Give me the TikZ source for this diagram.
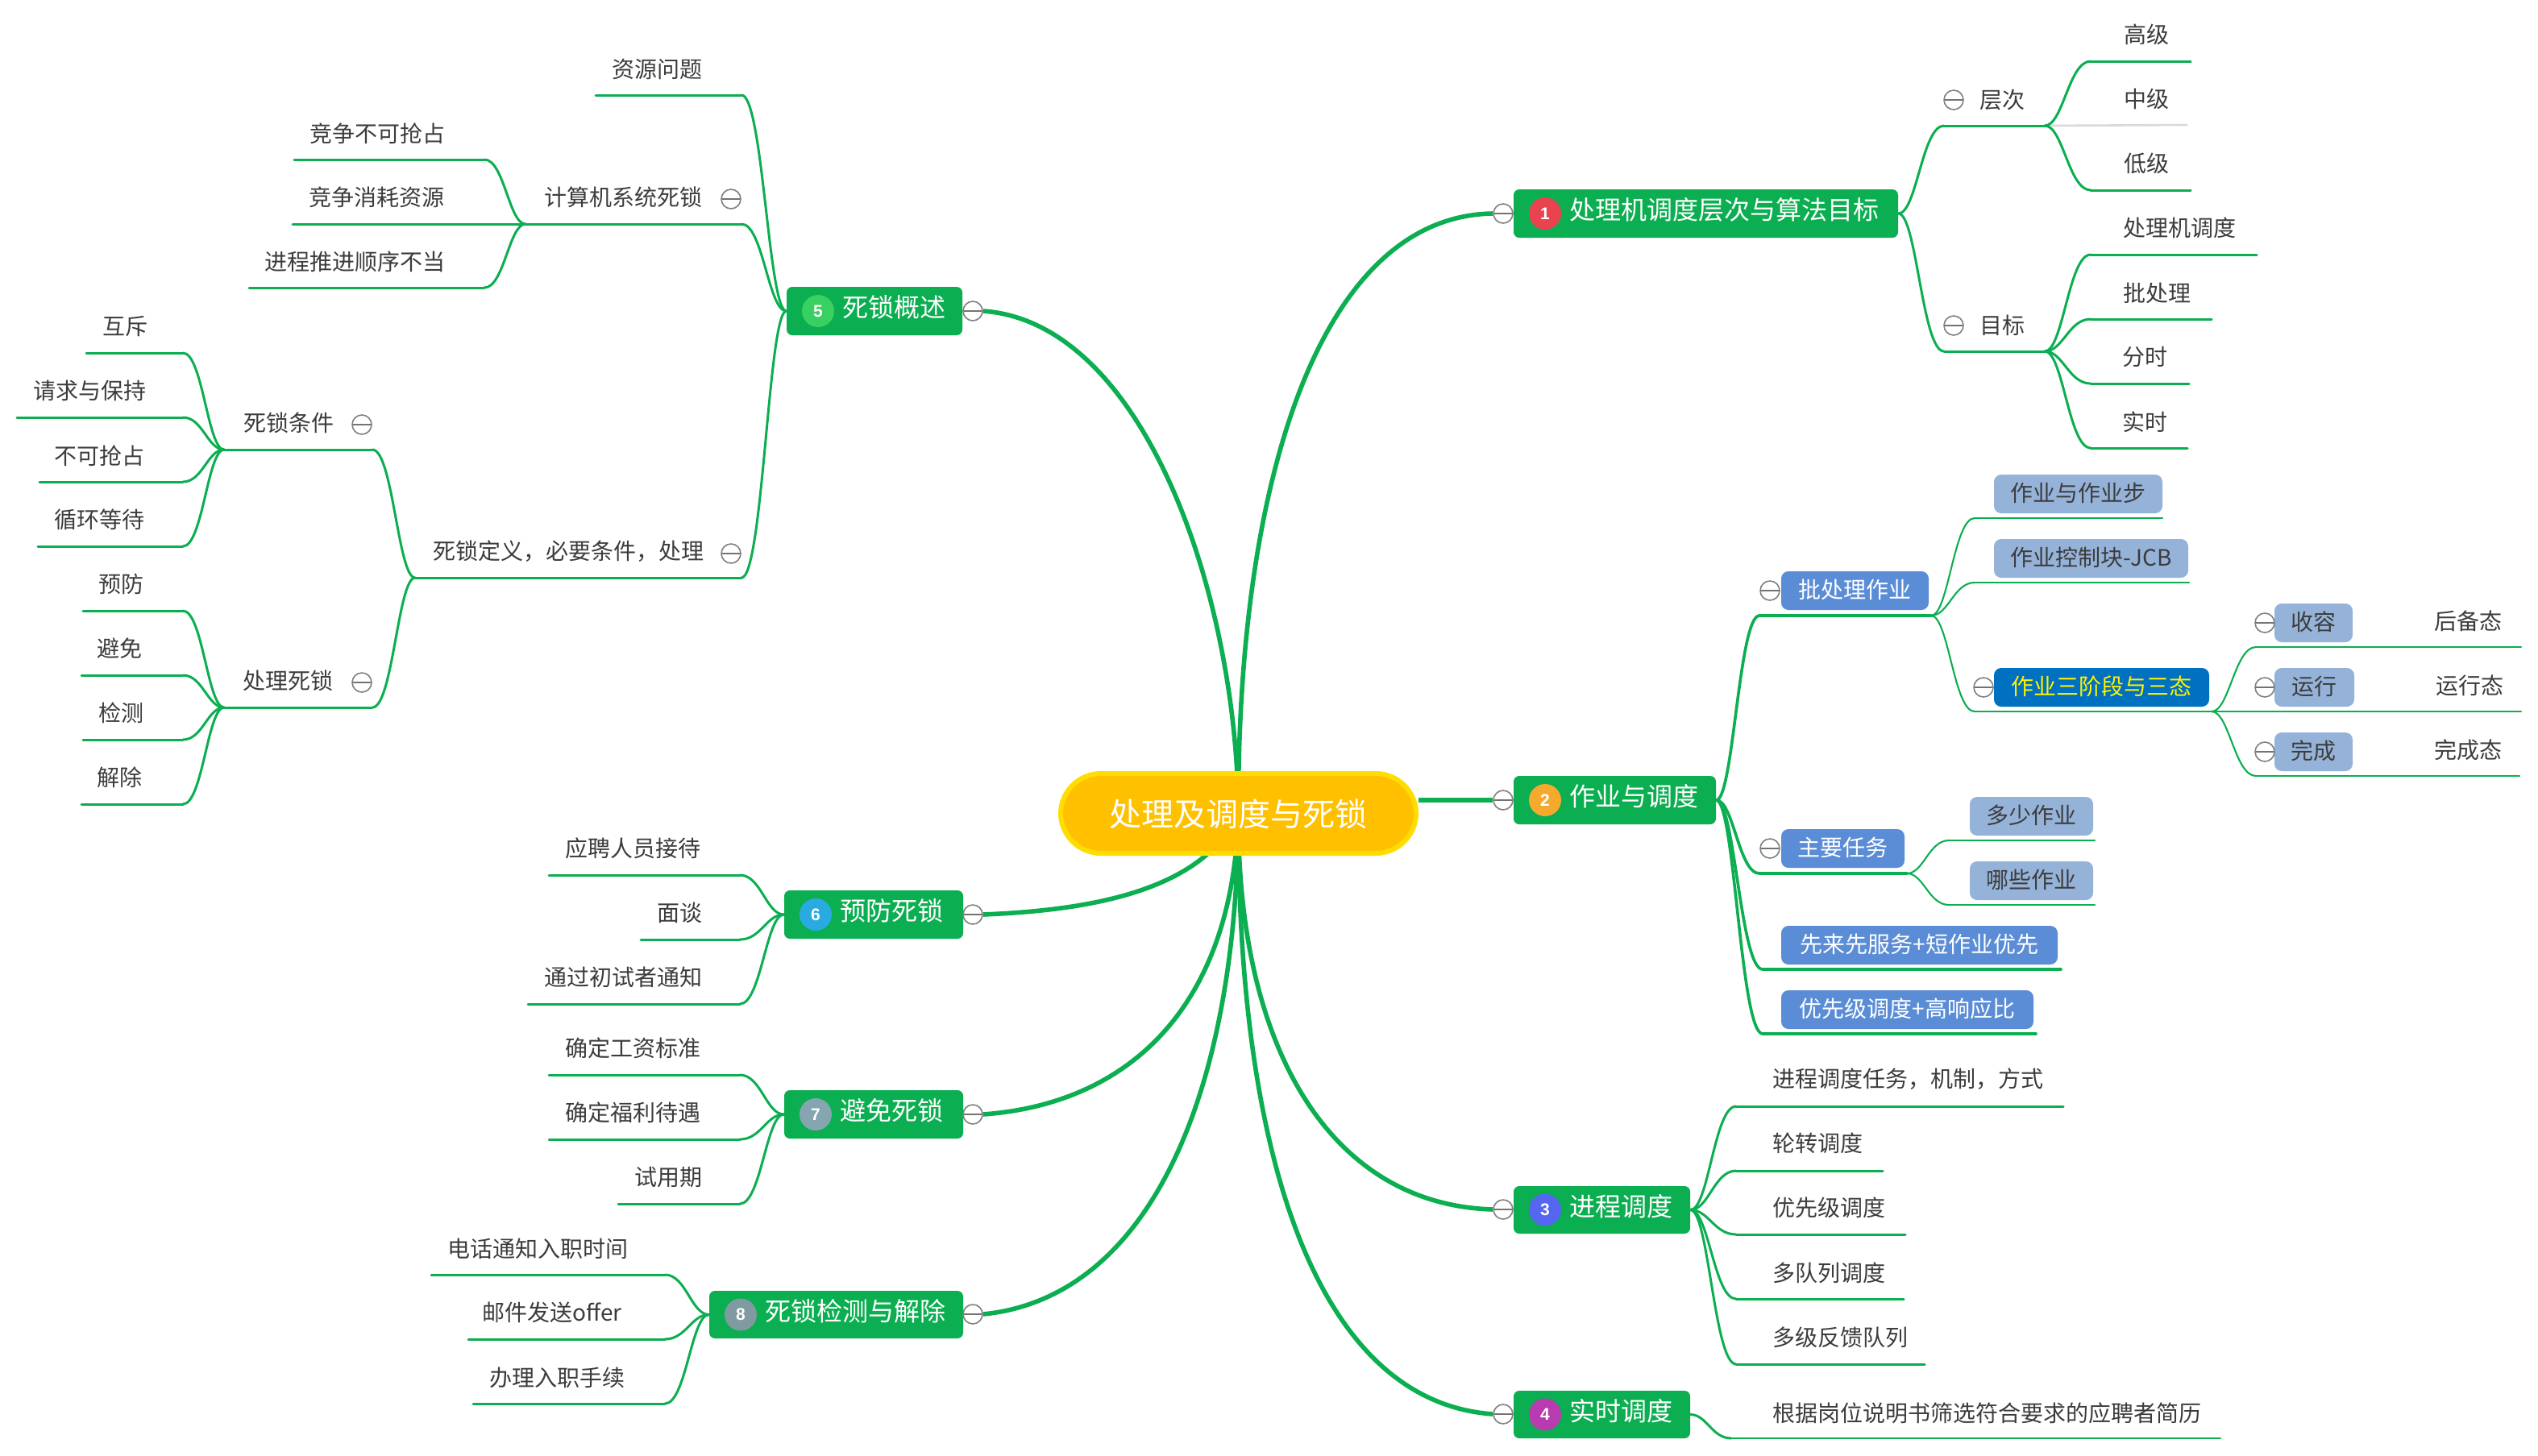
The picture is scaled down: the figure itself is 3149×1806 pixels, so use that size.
\documentclass[tikz,border=0pt]{standalone}
\usepackage{fontspec}
\setmainfont{Noto Sans CJK SC}
\newfontfamily\numf{Liberation Sans}
\usetikzlibrary{calc}
\pgfdeclarelayer{bg}
\pgfsetlayers{bg,main}
\definecolor{grn}{HTML}{0BAE50}
\definecolor{txt}{HTML}{3C3C3C}
\definecolor{bluebox}{HTML}{5B8DD6}
\definecolor{palebox}{HTML}{95B3D9}
\definecolor{deepbox}{HTML}{0070C0}
\definecolor{rootfill}{HTML}{FFC000}
\definecolor{rootedge}{HTML}{FFDD00}
\definecolor{bda}{HTML}{E8434E}
\definecolor{bdb}{HTML}{F5AA2E}
\definecolor{bdc}{HTML}{5566F0}
\definecolor{bdd}{HTML}{B83CB0}
\definecolor{bde}{HTML}{38D060}
\definecolor{bdf}{HTML}{29ABE2}
\definecolor{bdg}{HTML}{85A5B0}
\definecolor{bdh}{HTML}{7F9AA0}
\tikzset{
  lab/.style={font=\fontsize{14pt}{14pt}\selectfont,text=txt,inner sep=0pt,text height=12pt,text depth=2pt},
  ln/.style={draw=grn,line width=1.5pt,line cap=round},
  thk/.style={draw=grn,line width=1.8pt,line cap=round},
  thn/.style={draw=grn,line width=1.05pt,line cap=round},
  mainln/.style={draw=grn,line width=2.8pt},
  sc/.style={to path={.. controls ($(\tikztostart)!.4!(\tikztostart-|\tikztotarget)$) and ($(\tikztotarget)!.48!(\tikztotarget-|\tikztostart)$) .. (\tikztotarget)}},
  mc/.style={circle,draw=gray,fill=white,line width=.8pt,minimum size=12pt,inner sep=0pt,
    path picture={\draw[gray!90!black,line width=.7pt] (path picture bounding box.west) -- (path picture bounding box.east);}},
  onebox/.style={fill=grn,rounded corners=3.5pt},
  bluestyle/.style={fill=bluebox,rounded corners=4.5pt,font=\fontsize{14pt}{14pt}\selectfont,text=white},
  palestyle/.style={fill=palebox,rounded corners=4.5pt,font=\fontsize{14pt}{14pt}\selectfont,text=txt},
  deepstyle/.style={fill=deepbox,rounded corners=4.5pt,font=\fontsize{14pt}{14pt}\selectfont,text=yellow},
}
% name, text, centre x, centre y, line x0, line x1, line y, line style
\newcommand\leafn[8]{%
  \node[lab] (#1) at (#3,#4) {#2};
  \coordinate (#1L) at (#5,#7);
  \coordinate (#1R) at (#6,#7);
  \begin{pgfonlayer}{bg}\draw[#8] (#1L) -- (#1R);\end{pgfonlayer}}
% name, x0, y0, x1, y1, style, text
\newcommand\boxn[7]{%
  \pgfmathsetmacro\bw{(#4-#2)*0.5}\pgfmathsetmacro\bh{(#5-#3)*0.5}%
  \node[#6,inner sep=0pt,minimum width=\bw pt,minimum height=\bh pt,text height=12pt,text depth=2.6pt] (#1) at ({(#2+#4)/2},{(#3+#5)/2}) {#7};}
% name, x0, y0, x1, y1, badge colour, number, text
\newcommand\onen[8]{%
  \boxn{#1}{#2}{#3}{#4}{#5}{onebox}{}%
  \node[circle,fill=#6,minimum size=20pt,inner sep=0pt,text=white,font=\numf\bfseries\fontsize{10.5pt}{10.5pt}\selectfont] (#1b) at ({#2+39},{(#3+#5)/2}) {#7};
  \node[anchor=west,inner sep=0pt,text=white,font=\fontsize{16pt}{16pt}\selectfont,text height=13.8pt,text depth=2.2pt] (#1t) at ({#2+69},{(#3+#5)/2-4}) {#8};}
\newcommand\mcn[3]{\node[mc] (#1) at (#2,#3) {};}
\newcommand\conn[3][ln]{\begin{pgfonlayer}{bg}\draw[#1] (#2) to[sc] (#3);\end{pgfonlayer}}
\begin{document}
\begin{tikzpicture}[x=0.5pt,y=-0.5pt]
\useasboundingbox (0,0) rectangle (3149,1806);
\begin{pgfonlayer}{bg}\fill[white] (0,0) rectangle (3149,1806);\end{pgfonlayer}
% root
\node[rectangle,rounded corners=25pt,fill=rootfill,draw=rootedge,line width=3pt,minimum width=220.5pt,minimum height=49.5pt,inner sep=0pt,text=white,font=\fontsize{20pt}{20pt}\selectfont,text height=18.5pt,text depth=2.8pt] (root) at (1536.5,1009.5) {处理及调度与死锁};
% level one
\onen{n1}{1878}{235}{2355}{295}{bda}{1}{处理机调度层次与算法目标}
\onen{n2}{1878}{963}{2129}{1023}{bdb}{2}{作业与调度}
\onen{n3}{1878}{1472}{2097}{1531}{bdc}{3}{进程调度}
\onen{n4}{1878}{1726}{2097}{1785}{bdd}{4}{实时调度}
\onen{n5}{976}{356}{1194}{416}{bde}{5}{死锁概述}
\onen{n6}{973}{1105}{1195}{1165}{bdf}{6}{预防死锁}
\onen{n7}{973}{1353}{1195}{1413}{bdg}{7}{避免死锁}
\onen{n8}{880}{1602}{1195}{1661}{bdh}{8}{死锁检测与解除}
\mcn{m1}{1865}{265}\mcn{m2}{1865}{993}\mcn{m3}{1865}{1501}\mcn{m4}{1865}{1755}
\mcn{m5}{1207}{386}\mcn{m6}{1207}{1135}\mcn{m7}{1207}{1383}\mcn{m8}{1207}{1631}
\begin{pgfonlayer}{bg}
\draw[mainln] (root.center) .. controls (1535,590) and (1640,268) .. (m1.west);
\draw[mainln] (root.east |- m2.west) -- (m2.west);
\draw[mainln] (root.center) .. controls (1535,1300) and (1650,1495) .. (m3.west);
\draw[mainln] (root.center) .. controls (1535,1450) and (1640,1740) .. (m4.west);
\draw[mainln] (root.center) .. controls (1535,740) and (1420,400) .. (m5.east);
\draw[mainln] (root.center) .. controls (1490,1110) and (1340,1130) .. (m6.east);
\draw[mainln] (root.center) .. controls (1530,1250) and (1400,1370) .. (m7.east);
\draw[mainln] (root.center) .. controls (1535,1350) and (1430,1610) .. (m8.east);
\end{pgfonlayer}
% branch 1
\leafn{cc}{层次}{2484}{124}{2412}{2537}{156}{ln}\mcn{mcc}{2424}{124}
\leafn{gj}{高级}{2663}{43}{2594}{2718}{76}{ln}
\leafn{dj}{低级}{2663}{203}{2594}{2718}{236}{ln}
\node[lab] (zj) at (2663,123) {中级};
\coordinate (zjR) at (2714,155);
\begin{pgfonlayer}{bg}\draw[black!15,line width=1.3pt] (ccR) -- (zjR);\end{pgfonlayer}
\leafn{mb}{目标}{2484}{404}{2412}{2537}{436}{ln}\mcn{mmb}{2424}{404}
\leafn{clj}{处理机调度}{2704}{283}{2594}{2800}{316}{ln}
\leafn{pcl}{批处理}{2676}{364}{2594}{2744}{396}{ln}
\leafn{fs}{分时}{2661}{443}{2594}{2716}{476}{ln}
\leafn{ss}{实时}{2661}{524}{2594}{2714}{556}{ln}
\conn{n1.east}{ccL}\conn{n1.east}{mbL}
\conn{ccR}{gjL}\conn{ccR}{djL}
\conn{mbR}{cljL}\conn{mbR}{pclL}\conn{mbR}{fsL}\conn{mbR}{ssL}
% branch 2
\boxn{pz}{2210}{709}{2393}{757}{bluestyle}{批处理作业}\mcn{mpz}{2196}{733}
\coordinate (pzL) at (2183,764);\coordinate (pzR) at (2396,764);
\boxn{zb}{2474}{589}{2683}{637}{palestyle}{作业与作业步}
\coordinate (zbL) at (2450,643);\coordinate (zbR) at (2683,643);
\boxn{kz}{2474}{669}{2715}{717}{palestyle}{作业控制块-JCB}
\coordinate (kzL) at (2450,723);\coordinate (kzR) at (2716,723);
\boxn{sj}{2474}{829}{2741}{877}{deepstyle}{作业三阶段与三态}\mcn{msj}{2461}{853}
\coordinate (sjL) at (2450,883);\coordinate (sjR) at (2744,883);
\boxn{sr}{2822}{749}{2919}{797}{palestyle}{收容}\mcn{msr}{2810}{773}
\coordinate (srL) at (2799,803);\coordinate (srR) at (3128,803);
\boxn{yx}{2822}{829}{2921}{877}{palestyle}{运行}\mcn{myx}{2810}{853}
\coordinate (yxL) at (2799,883);\coordinate (yxR) at (3128,883);
\boxn{wc}{2822}{909}{2919}{957}{palestyle}{完成}\mcn{mwc}{2810}{933}
\coordinate (wcL) at (2799,963);\coordinate (wcR) at (3126,963);
\node[lab] (hb) at (3062,771) {后备态};
\node[lab] (yxt) at (3064,851) {运行态};
\node[lab] (wct) at (3062,931) {完成态};
\boxn{zy}{2210}{1029}{2363}{1077}{bluestyle}{主要任务}\mcn{mzy}{2196}{1053}
\coordinate (zyL) at (2183,1084);\coordinate (zyR) at (2366,1084);
\boxn{ds}{2444}{989}{2597}{1037}{palestyle}{多少作业}
\coordinate (dsL) at (2418,1043);\coordinate (dsR) at (2599,1043);
\boxn{nx}{2444}{1069}{2597}{1117}{palestyle}{哪些作业}
\coordinate (nxL) at (2418,1123);\coordinate (nxR) at (2599,1123);
\boxn{xl}{2210}{1149}{2553}{1197}{bluestyle}{先来先服务+短作业优先}
\coordinate (xlL) at (2187,1203);\coordinate (xlR) at (2557,1203);
\boxn{yj}{2210}{1229}{2523}{1277}{bluestyle}{优先级调度+高响应比}
\coordinate (yjL) at (2187,1283);\coordinate (yjR) at (2526,1283);
\begin{pgfonlayer}{bg}
\draw[thk] (pzL)--(pzR); \draw[thn] (zbL)--(zbR); \draw[thn] (kzL)--(kzR); \draw[thn] (sjL)--(sjR);
\draw[thn] (srL)--(srR); \draw[thn] (yxL)--(yxR); \draw[thn] (wcL)--(wcR); \draw[thn] (sjR)--(yxL);
\draw[thk] (zyL)--(zyR); \draw[thn] (dsL)--(dsR); \draw[thn] (nxL)--(nxR);
\draw[thk] (xlL)--(xlR); \draw[thk] (yjL)--(yjR);
\end{pgfonlayer}
\conn[thk]{n2.east}{pzL}\conn[thk]{n2.east}{zyL}\conn[thk]{n2.east}{xlL}\conn[thk]{n2.east}{yjL}
\conn[thn]{pzR}{zbL}\conn[thn]{pzR}{kzL}\conn[thn]{pzR}{sjL}
\conn[thn]{sjR}{srL}\conn[thn]{sjR}{wcL}
\conn[thn]{zyR}{dsL}\conn[thn]{zyR}{nxL}
% branch 3
\leafn{a1}{进程调度任务，机制，方式}{2367}{1339}{2154}{2560}{1373}{ln}
\leafn{a2}{轮转调度}{2255}{1419}{2154}{2336}{1453}{ln}
\leafn{a3}{优先级调度}{2269}{1499}{2154}{2364}{1532}{ln}
\leafn{a4}{多队列调度}{2269}{1580}{2154}{2362}{1612}{ln}
\leafn{a5}{多级反馈队列}{2283}{1660}{2154}{2388}{1693}{ln}
\conn{n3.east}{a1L}\conn{n3.east}{a2L}\conn{n3.east}{a3L}\conn{n3.east}{a4L}\conn{n3.east}{a5L}
% branch 4
\leafn{b1}{根据岗位说明书筛选符合要求的应聘者简历}{2465}{1754}{2148}{2755}{1785}{thn}
\conn{n4.east}{b1L}
% branch 5
\leafn{c1}{资源问题}{815}{86}{739}{920}{118}{ln}
\leafn{c2}{计算机系统死锁}{773}{245}{652}{920}{278}{ln}\mcn{mc2}{907}{247}
\leafn{c3}{死锁定义，必要条件，处理}{705}{684}{515}{920}{717}{ln}\mcn{mc3}{907}{687}
\leafn{d1}{竞争不可抢占}{468}{166}{365}{601}{198}{ln}
\leafn{d2}{竞争消耗资源}{467}{245}{363}{652}{278}{ln}
\leafn{d3}{进程推进顺序不当}{440}{325}{309}{601}{357}{ln}
\leafn{e1}{死锁条件}{358}{525}{278}{462}{558}{ln}\mcn{me1}{449}{527}
\leafn{e2}{处理死锁}{357}{845}{278}{462}{878}{ln}\mcn{me2}{449}{847}
\leafn{f1}{互斥}{155}{405}{107}{227}{438}{ln}
\leafn{f2}{请求与保持}{111}{485}{21}{227}{518}{ln}
\leafn{f3}{不可抢占}{124}{566}{49}{227}{598}{ln}
\leafn{f4}{循环等待}{123}{645}{47}{227}{678}{ln}
\leafn{g1}{预防}{150}{725}{103}{227}{758}{ln}
\leafn{g2}{避免}{148}{805}{101}{227}{838}{ln}
\leafn{g3}{检测}{150}{885}{103}{227}{918}{ln}
\leafn{g4}{解除}{148}{965}{101}{227}{998}{ln}
\conn{n5.west}{c1R}\conn{n5.west}{c2R}\conn{n5.west}{c3R}
\conn{d2R}{d1R}\conn{d2R}{d3R}
\conn{c3L}{e1R}\conn{c3L}{e2R}
\conn{e1L}{f1R}\conn{e1L}{f2R}\conn{e1L}{f3R}\conn{e1L}{f4R}
\conn{e2L}{g1R}\conn{e2L}{g2R}\conn{e2L}{g3R}\conn{e2L}{g4R}
% branch 6
\leafn{h1}{应聘人员接待}{785}{1053}{681}{918}{1086}{ln}
\leafn{h2}{面谈}{843}{1133}{795}{918}{1166}{ln}
\leafn{h3}{通过初试者通知}{773}{1213}{655}{918}{1246}{ln}
\conn{n6.west}{h1R}\conn{n6.west}{h2R}\conn{n6.west}{h3R}
% branch 7
\leafn{i1}{确定工资标准}{785}{1301}{681}{918}{1334}{ln}
\leafn{i2}{确定福利待遇}{785}{1381}{681}{918}{1414}{ln}
\leafn{i3}{试用期}{829}{1461}{767}{918}{1494}{ln}
\conn{n7.west}{i1R}\conn{n7.west}{i2R}\conn{n7.west}{i3R}
% branch 8
\leafn{j1}{电话通知入职时间}{667}{1550}{535}{825}{1582}{ln}
\leafn{j2}{邮件发送offer}{685}{1629}{581}{825}{1662}{ln}
\leafn{j3}{办理入职手续}{691}{1710}{587}{825}{1742}{ln}
\conn{n8.west}{j1R}\conn{n8.west}{j2R}\conn{n8.west}{j3R}
\end{tikzpicture}
\end{document}
